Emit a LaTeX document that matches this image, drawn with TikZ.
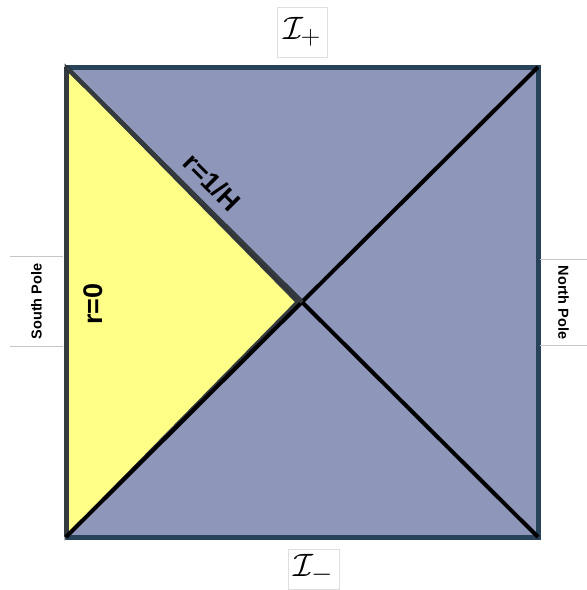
\documentclass[tikz,border=0pt]{standalone}
\usepackage{amsmath}
\usepackage{graphicx}
\usepackage{fontspec}
\setsansfont{Liberation Sans}
\usepackage{tikz}
\usetikzlibrary{calc}
\definecolor{patchblue}{RGB}{142,151,186}
\definecolor{patchyellow}{RGB}{255,255,136}
\definecolor{edgeblue}{RGB}{40,66,90}
\definecolor{edgegray}{RGB}{52,58,62}
\newcommand{\scri}[1]{\scalebox{1.3}{$\mathcal{I}_{#1}$}}
\tikzset{
  scribox/.style={draw=gray!25,inner sep=0pt,font=\Huge},
  polelabel/.style={inner sep=0pt,font=\fontsize{14.5}{16}\selectfont\sffamily\bfseries},
  rlabel/.style={inner sep=0pt,font=\fontsize{27}{30}\selectfont\sffamily\bfseries},
  poleline/.style={draw=gray!45,line width=0.8pt}
}
\begin{document}
\begin{tikzpicture}[x=1pt,y=-1pt]
\useasboundingbox (0,0) rectangle (587,590);
\coordinate (tl) at (66,67);
\coordinate (tr) at (538,67);
\coordinate (br) at (538,537);
\coordinate (bl) at (66,537);
\coordinate (c) at (302,302);
\coordinate (tip) at (297,302);
% patches
\fill[patchblue] (tl) -- (tr) -- (br) -- (bl) -- cycle;
\fill[patchyellow,draw=edgegray,line width=3pt] (tl) -- (tip) -- (bl) -- cycle;
\draw[edgeblue,line width=5pt] (tl) -- (tr) -- (br) -- (bl);
\draw[edgegray,line width=5pt] (bl) -- (tl);
% horizons
\draw[line width=4pt] (tl) -- (br);
\draw[line width=4pt] (tr) -- (bl);
\draw[edgegray,line width=4pt] (tl) -- (c);
% labels
\node[scribox,minimum width=50pt,minimum height=50pt] (iplus) at (302,32) {\scri{+}};
\node[scribox,minimum width=51pt,minimum height=40pt] (iminus) at (313.5,569) {\scri{-}};
\node[polelabel,rotate=90,minimum width=89pt,minimum height=53pt] (spole) at (36.5,301.5) {South Pole};
\node[polelabel,rotate=-90,minimum width=85pt,minimum height=47pt] (npole) at (563.5,302.5) {North Pole};
\draw[poleline] (spole.north east) -- (spole.south east);
\draw[poleline] (spole.north west) -- (spole.south west);
\draw[poleline] (npole.north east) -- (npole.south east);
\draw[poleline] (npole.north west) -- (npole.south west);
\node[rlabel,rotate=90] (rzero) at (93,304) {r=0};
\node[rlabel,rotate=-45] (rhor) at (212,182) {r=1/H};
\end{tikzpicture}
\end{document}
